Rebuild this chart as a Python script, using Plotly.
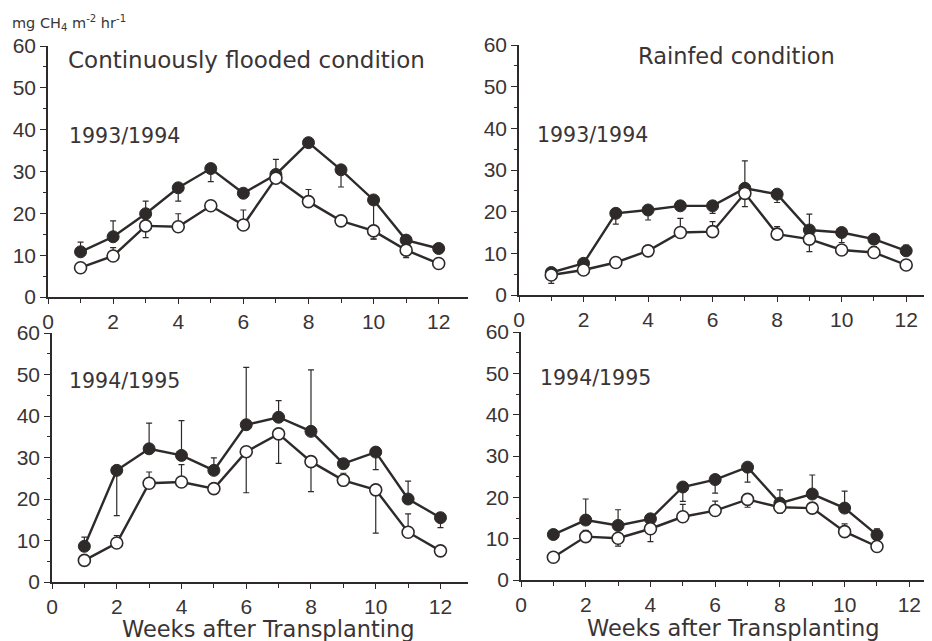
import plotly.graph_objects as go

# Page body has an 8px margin, so the figure is sized to fit the 932x641 window.
OFF = 8
W, H = 932 - OFF, 641 - OFF

weeks = list(range(1, 13))
weeks_rf95 = list(range(1, 12))

# Continuously flooded 1993/1994
cf93_filled = [10.8, 14.4, 19.9, 26.1, 30.7, 24.8, 29.3, 36.9, 30.4, 23.2, 13.6, 11.6]
cf93_filled_up = [2.3, 3.8, 3.0, 0, 0, 0, 3.6, 0, 0, 0, 0, 0]
cf93_filled_dn = [0, 0, 0, 3.2, 3.1, 0, 0, 0, 4.1, 9.3, 0, 0]
cf93_open = [7.0, 9.8, 17.0, 16.8, 21.8, 17.2, 28.4, 22.8, 18.2, 15.8, 11.2, 8.0]
cf93_open_up = [0, 2.0, 0, 3.1, 0, 3.6, 0, 2.9, 1.2, 0, 0, 0]
cf93_open_dn = [0, 0, 2.8, 0, 0, 0, 0, 0, 0, 2.0, 1.8, 0]

# Rainfed 1993/1994
rf93_filled = [5.4, 7.6, 19.6, 20.4, 21.4, 21.4, 25.6, 24.2, 15.6, 15.0, 13.4, 10.6]
rf93_filled_up = [0, 0, 0, 0, 0, 0, 6.6, 0, 3.8, 0, 0, 1.4]
rf93_filled_dn = [2.6, 0, 2.6, 2.4, 0, 1.8, 0, 2.0, 0, 2.4, 0, 0]
rf93_open = [4.8, 6.0, 7.8, 10.6, 15.0, 15.2, 24.4, 14.6, 13.4, 10.8, 10.2, 7.2]
rf93_open_up = [0, 0, 0, 0, 3.4, 2.4, 0, 1.8, 0, 0, 1.4, 0]
rf93_open_dn = [0, 0, 0, 0, 0, 0, 3.2, 0, 3.0, 0, 0, 0]

# Continuously flooded 1994/1995
cf94_filled = [8.6, 26.9, 32.1, 30.5, 26.9, 37.9, 39.7, 36.3, 28.5, 31.3, 20.0, 15.5]
cf94_filled_up = [2.2, 0, 6.2, 8.4, 3.0, 13.8, 4.0, 14.8, 0, 0, 4.3, 0]
cf94_filled_dn = [0, 10.9, 0, 0, 0, 0, 0, 0, 0, 4.2, 0, 2.4]
cf94_open = [5.2, 9.4, 23.8, 24.1, 22.5, 31.4, 35.7, 29.0, 24.5, 22.2, 12.0, 7.5]
cf94_open_up = [0, 1.8, 2.7, 4.2, 0, 0, 0, 0, 1.7, 0, 4.4, 1.1]
cf94_open_dn = [0, 0, 0, 0, 0, 9.9, 7.1, 7.2, 0, 10.4, 0, 0]

# Rainfed 1994/1995
rf94_filled = [11.0, 14.5, 13.2, 14.8, 22.5, 24.3, 27.3, 18.6, 20.8, 17.4, 10.9]
rf94_filled_up = [0, 5.1, 3.8, 0, 0, 0, 0, 3.2, 4.6, 4.1, 1.5]
rf94_filled_dn = [1.2, 0, 0, 0, 3.5, 3.3, 3.6, 0, 0, 0, 0]
rf94_open = [5.5, 10.5, 10.1, 12.4, 15.3, 16.8, 19.5, 17.6, 17.4, 11.7, 8.1]
rf94_open_up = [0, 1.5, 0, 0, 3.0, 2.3, 0, 0, 0, 1.9, 0]
rf94_open_dn = [0, 0, 1.9, 3.1, 0, 0, 1.9, 1.4, 0, 0, 0]

y_ticks = [0, 10, 20, 30, 40, 50, 60]
x_ticks = [0, 2, 4, 6, 8, 10, 12]

INK = "#2e2a2a"
TXT = "#3a3434"
TICKFONT = "Liberation Sans"
LABELFONT = "DejaVu Sans"

def px(x):
    return (x - OFF) / W

def py(y):
    return 1 - (y - OFF) / H

fig = go.Figure()

panels = [
    ("x", "y", weeks, cf93_filled, cf93_filled_up, cf93_filled_dn, cf93_open, cf93_open_up, cf93_open_dn),
    ("x2", "y2", weeks, rf93_filled, rf93_filled_up, rf93_filled_dn, rf93_open, rf93_open_up, rf93_open_dn),
    ("x3", "y3", weeks, cf94_filled, cf94_filled_up, cf94_filled_dn, cf94_open, cf94_open_up, cf94_open_dn),
    ("x4", "y4", weeks_rf95, rf94_filled, rf94_filled_up, rf94_filled_dn, rf94_open, rf94_open_up, rf94_open_dn),
]

for xa, ya, xs, f, fu, fd, o, ou, od in panels:
    fig.add_trace(go.Scatter(
        x=xs, y=f, xaxis=xa, yaxis=ya, mode="lines+markers",
        line=dict(color=INK, width=2.4),
        marker=dict(symbol="circle", size=12, color=INK, line=dict(color=INK, width=1)),
        error_y=dict(type="data", symmetric=False, array=fu, arrayminus=fd,
                     color=INK, thickness=1.2, width=3),
        cliponaxis=False, showlegend=False, hoverinfo="skip"))
    fig.add_trace(go.Scatter(
        x=xs, y=o, xaxis=xa, yaxis=ya, mode="lines+markers",
        line=dict(color=INK, width=2.4),
        marker=dict(symbol="circle", size=12, color="white", line=dict(color=INK, width=1.6)),
        error_y=dict(type="data", symmetric=False, array=ou, arrayminus=od,
                     color=INK, thickness=1.2, width=3),
        cliponaxis=False, showlegend=False, hoverinfo="skip"))

def xaxis_def(x0, x1, xmax, anchor):
    return dict(domain=[px(x0), px(x1)], range=[0, xmax], tickvals=x_ticks, anchor=anchor,
                ticks="outside", ticklen=5, tickwidth=1.2, tickcolor=INK,
                minor=dict(dtick=1, tick0=0, ticks="outside", ticklen=4, tickcolor=INK, tickwidth=1),
                showline=True, linecolor=INK, linewidth=1.8, showgrid=False, zeroline=False,
                tickfont=dict(family=TICKFONT, size=21, color=TXT), automargin=False,
                fixedrange=True)

def yaxis_def(y0, y1, anchor):
    return dict(domain=[py(y1), py(y0)], range=[0, 60], tickvals=y_ticks, anchor=anchor,
                ticks="outside", ticklen=6, tickwidth=1.2, tickcolor=INK,
                minor=dict(dtick=5, tick0=0, ticks="outside", ticklen=3, tickcolor=INK, tickwidth=1),
                showline=True, linecolor=INK, linewidth=1.6, showgrid=False, zeroline=False,
                tickfont=dict(family=TICKFONT, size=21, color=TXT), ticklabelstandoff=0,
                automargin=False, fixedrange=True)

fig.update_layout(
    width=W, height=H,
    margin=dict(l=0, r=0, t=0, b=0, autoexpand=False),
    paper_bgcolor="white", plot_bgcolor="rgba(0,0,0,0)",
    xaxis=xaxis_def(48, 468, 12.9, "y"),
    yaxis=yaxis_def(46, 297, "x"),
    xaxis2=xaxis_def(519, 932, 12.8, "y2"),
    yaxis2=yaxis_def(45, 295, "x2"),
    xaxis3=xaxis_def(52, 468, 12.85, "y3"),
    yaxis3=yaxis_def(333, 582, "x3"),
    xaxis4=xaxis_def(521, 932, 12.7, "y4"),
    yaxis4=yaxis_def(332, 580, "x4"),
)

def ann(text, x, y, size, xanchor="left", family=LABELFONT):
    fig.add_annotation(text=text, x=px(x), y=py(y), xref="paper", yref="paper",
                       xanchor=xanchor, yanchor="middle", showarrow=False,
                       font=dict(family=family, size=size, color=TXT))

ann("mg CH<sub>4</sub> m<sup>-2</sup> hr<sup>-1</sup>", 10, 23, 14.5)
ann("Continuously flooded condition", 66, 60, 23)
ann("Rainfed condition", 636, 56, 22.5)
ann("1993/1994", 67, 136, 20.5)
ann("1993/1994", 535, 135, 20.5)
ann("1994/1995", 67, 381, 20.5)
ann("1994/1995", 538, 378, 20.5)
ann("Weeks after Transplanting", 268, 629, 22.5, "center")
ann("Weeks after Transplanting", 733, 628, 22.5, "center")

fig.write_html("out.html")
